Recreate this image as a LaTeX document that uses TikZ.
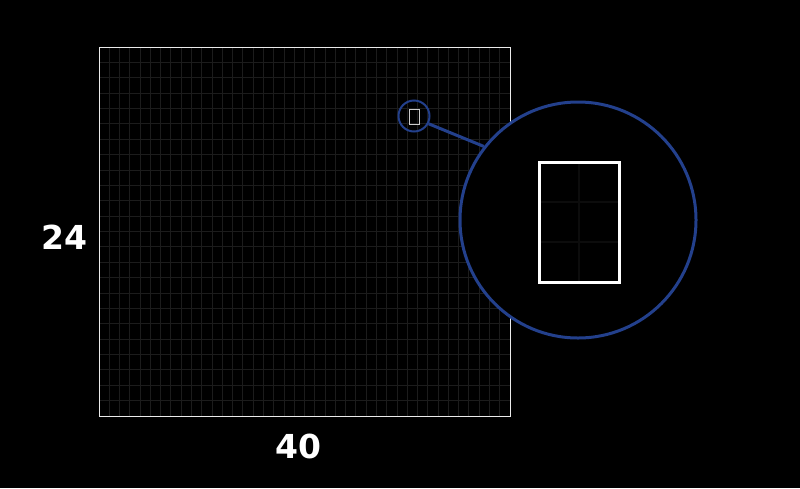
\documentclass[tikz,border=0pt]{standalone}
\usepackage{fontspec}
\setmainfont{DejaVu Sans}
\definecolor{lensblue}{RGB}{35,64,140}
\definecolor{gridgray}{RGB}{28,28,28}
\definecolor{subgray}{RGB}{12,12,12}
\tikzset{
  gridline/.style={draw=gridgray, line width=0.9pt},
  frame/.style={draw=white!92!black, line width=1.4pt, inner sep=0pt},
  lens/.style={circle, draw=lensblue, inner sep=0pt},
  axislabel/.style={text=white, font=\fontsize{33}{36}\selectfont\bfseries, inner sep=0pt},
}
\begin{document}
\begin{tikzpicture}[x=1pt, y=-1pt]
\fill[black] (0,0) rectangle (800,488);
\useasboundingbox (0,0) rectangle (800,488);
% grid
\foreach \i in {1,...,39} \draw[gridline] ({99+\i*10.275},47) -- ({99+\i*10.275},416);
\foreach \j in {1,...,23} \draw[gridline] (99,{47+\j*15.375}) -- (510,{47+\j*15.375});
\node[frame, minimum width=411pt, minimum height=369pt, anchor=north west] (frame) at (99,47) {};
% selected cell
\node[draw=white!80!black, line width=1pt, inner sep=0pt, minimum width=10.3pt, minimum height=15.4pt] (cell) at (414.2,116.7) {};
% small lens
\node[lens, line width=2pt, minimum size=31pt] (small) at (414,116) {};
% big lens
\node[lens, fill=black, line width=3pt, minimum size=236pt] (big) at (578,220) {};
% connector
\draw[lensblue, line width=3pt] (small.-28) -- (big.142.5);
% magnified cell
\foreach \x in {579} \draw[subgray, line width=2pt] (\x,162) -- (\x,282);
\foreach \y in {202,242} \draw[subgray, line width=2pt] (539,\y) -- (619,\y);
\node[draw=white, line width=3pt, inner sep=0pt, minimum width=80pt, minimum height=120pt] (mag) at (579,222) {};
% labels
\node[axislabel] (rows) at (64,237) {24};
\node[axislabel] (cols) at (298,446) {40};
\end{tikzpicture}
\end{document}
